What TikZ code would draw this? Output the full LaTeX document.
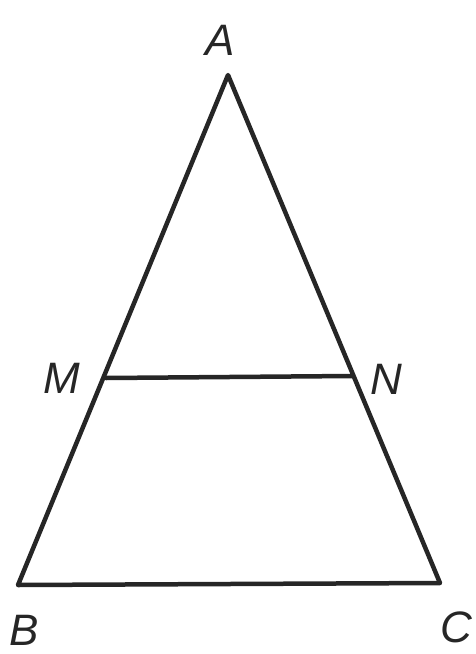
\documentclass[tikz,border=0pt]{standalone}
\usepackage{fontspec}
\setmainfont{Liberation Sans}
\begin{document}
\begin{tikzpicture}[x=1pt,y=-1pt,
  edge/.style={line width=4.5pt,line cap=round,line join=round,draw=black!85},
  lbl/.style={font=\fontsize{44}{44}\selectfont\itshape,text=black!85,inner sep=0pt}]
\useasboundingbox (0,0) rectangle (476,654);
\coordinate (A) at (228,75);
\coordinate (B) at (18,585);
\coordinate (C) at (440,583);
\coordinate (M) at (106,378);
\coordinate (N) at (352,376);
\draw[edge] (A) -- (B) -- (C) -- cycle;
\draw[edge] (M) -- (N);
\node[lbl] (lA) at (220,40) {A};
\node[lbl] (lM) at (62,378) {M};
\node[lbl] (lN) at (386,379) {N};
\node[lbl] (lB) at (24,630) {B};
\node[lbl] (lC) at (456,627) {C};
\end{tikzpicture}
\end{document}
